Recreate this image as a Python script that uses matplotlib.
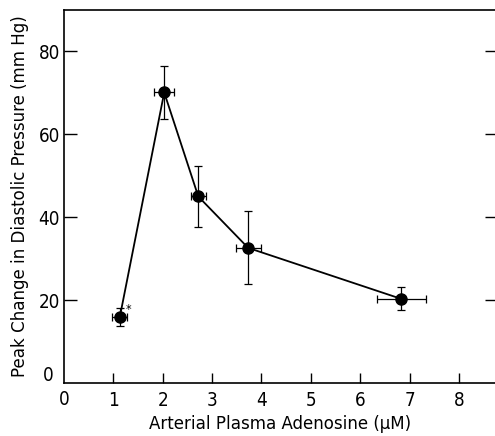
import matplotlib
matplotlib.use("Agg")
import matplotlib.pyplot as plt

plt.rcParams['font.family'] = ['DejaVu Sans']
plt.rcParams['font.stretch'] = 'condensed'

adenosine = [1.13, 2.03, 2.72, 3.73, 6.83]
adenosine_err = [0.15, 0.2, 0.15, 0.25, 0.5]
pressure = [15.9, 70.1, 45.0, 32.6, 20.3]
pressure_err = [2.1, 6.4, 7.3, 8.8, 2.8]
xticks = [1, 2, 3, 4, 5, 6, 7, 8]
yticks = [20, 40, 60, 80]

fig = plt.figure(figsize=(4.95, 4.36), dpi=100)
ax = fig.add_axes([64/495, 1-383/436, (497-64)/495, (383-10)/436])

ax.plot(adenosine, pressure, color='black', lw=1.3, zorder=2)
ax.errorbar(adenosine, pressure, xerr=adenosine_err, yerr=pressure_err,
            fmt='o', color='black', ms=8, elinewidth=0.9, capsize=3,
            capthick=0.9, zorder=3)
ax.text(adenosine[0] + 0.12, pressure[0] + 1.0, '*', fontsize=9)

fs = 13.5
lfs = 13.3
ax.set_xlim(0, 8.77)
ax.set_ylim(0, 90)
ax.set_xticks(xticks)
ax.set_yticks(yticks)
ax.tick_params(axis='x', direction='in', length=7, width=1, labelsize=fs, pad=6)
ax.tick_params(axis='y', direction='in', length=9, width=1, labelsize=fs,
               right=True, pad=3)
for s in ax.spines.values():
    s.set_linewidth(1.2)
ax.text(-0.025, 0.02, '0', transform=ax.transAxes, ha='right',
        va='center', fontsize=fs)
ax.text(0.0, -0.02, '0', transform=ax.transAxes, ha='center',
        va='top', fontsize=fs)

ax.set_xlabel('Arterial Plasma Adenosine (\u03bcM)', fontsize=lfs, labelpad=3)
ax.set_ylabel('Peak Change in Diastolic Pressure (mm Hg)', fontsize=lfs, labelpad=7)

fig.savefig('out.png', dpi=100)
